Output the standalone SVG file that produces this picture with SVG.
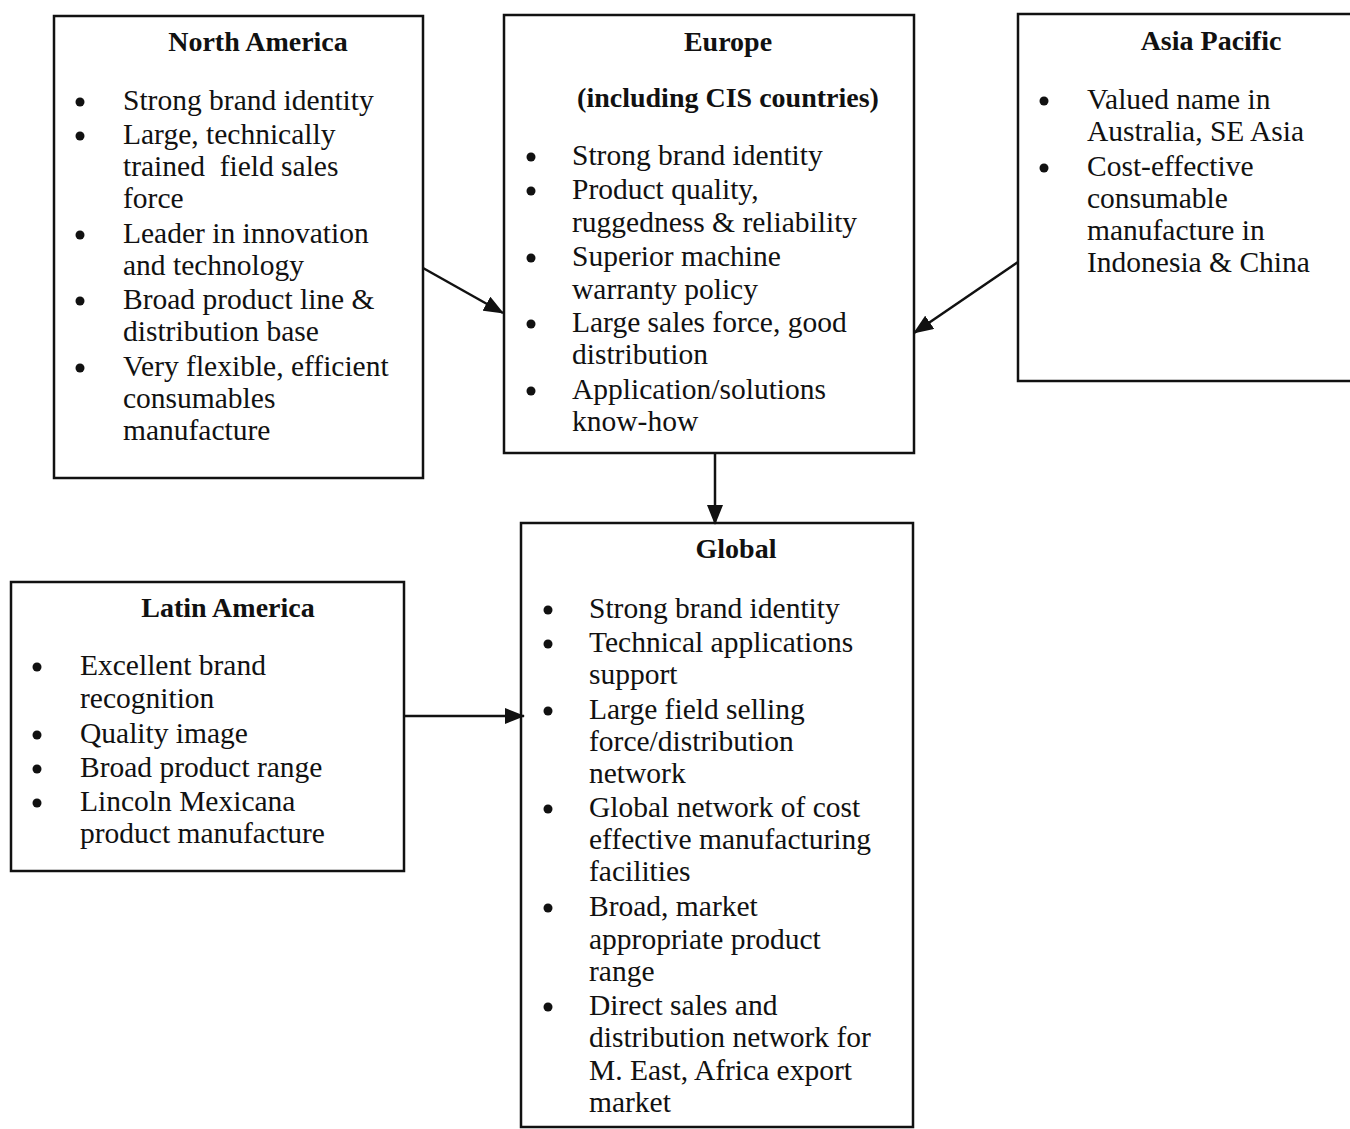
<svg xmlns="http://www.w3.org/2000/svg" width="1350" height="1129" viewBox="0 0 1350 1129">
<style>
.box{fill:#fff;stroke:#111;stroke-width:2.5}
.t{font-family:"Liberation Serif","Times New Roman",serif;font-weight:bold;font-size:28px;fill:#111;text-anchor:middle}
.b{font-family:"Liberation Serif","Times New Roman",serif;font-size:29.5px;fill:#111}
.dot{fill:#111}
.con{stroke:#111;stroke-width:2.5;fill:none}
</style>
<defs>
<marker id="ah" viewBox="0 0 20 16" refX="19" refY="8" markerWidth="20" markerHeight="16" markerUnits="userSpaceOnUse" orient="auto">
<path d="M0,0 L20,8 L0,16 z" fill="#111"/>
</marker>
</defs>
<rect width="1350" height="1129" fill="#fff"/>

<g id="north-america">
<rect class="box" x="54" y="16" width="369" height="462"/>
<text class="t" x="258" y="51">North America</text>
<circle class="dot" cx="80" cy="102" r="4.5"/>
<circle class="dot" cx="80" cy="136" r="4.5"/>
<circle class="dot" cx="80" cy="235" r="4.5"/>
<circle class="dot" cx="80" cy="301" r="4.5"/>
<circle class="dot" cx="80" cy="368" r="4.5"/>
<text class="b" x="123" y="110">Strong brand identity</text>
<text class="b" x="123" y="144">Large, technically</text>
<text class="b" x="123" y="176" xml:space="preserve">trained  field sales</text>
<text class="b" x="123" y="208">force</text>
<text class="b" x="123" y="243">Leader in innovation</text>
<text class="b" x="123" y="275">and technology</text>
<text class="b" x="123" y="309">Broad product line &amp;</text>
<text class="b" x="123" y="341">distribution base</text>
<text class="b" x="123" y="376">Very flexible, efficient</text>
<text class="b" x="123" y="408">consumables</text>
<text class="b" x="123" y="440">manufacture</text>
</g>

<g id="europe">
<rect class="box" x="504" y="15" width="410" height="438"/>
<text class="t" x="728" y="51">Europe</text>
<text class="t" x="728" y="107">(including CIS countries)</text>
<circle class="dot" cx="531" cy="157" r="4.5"/>
<circle class="dot" cx="531" cy="191" r="4.5"/>
<circle class="dot" cx="531" cy="258" r="4.5"/>
<circle class="dot" cx="531" cy="324" r="4.5"/>
<circle class="dot" cx="531" cy="391" r="4.5"/>
<text class="b" x="572" y="165">Strong brand identity</text>
<text class="b" x="572" y="199">Product quality,</text>
<text class="b" x="572" y="232">ruggedness &amp; reliability</text>
<text class="b" x="572" y="266">Superior machine</text>
<text class="b" x="572" y="299">warranty policy</text>
<text class="b" x="572" y="332">Large sales force, good</text>
<text class="b" x="572" y="364">distribution</text>
<text class="b" x="572" y="399">Application/solutions</text>
<text class="b" x="572" y="431">know-how</text>
</g>

<g id="asia-pacific">
<rect class="box" x="1018" y="14" width="345" height="367"/>
<text class="t" x="1211" y="50">Asia Pacific</text>
<circle class="dot" cx="1044" cy="101" r="4.5"/>
<circle class="dot" cx="1044" cy="168" r="4.5"/>
<text class="b" x="1087" y="109">Valued name in</text>
<text class="b" x="1087" y="141">Australia, SE Asia</text>
<text class="b" x="1087" y="176">Cost-effective</text>
<text class="b" x="1087" y="208">consumable</text>
<text class="b" x="1087" y="240">manufacture in</text>
<text class="b" x="1087" y="272">Indonesia &amp; China</text>
</g>

<g id="latin-america">
<rect class="box" x="11" y="582" width="393" height="289"/>
<text class="t" x="228" y="617">Latin America</text>
<circle class="dot" cx="37" cy="667" r="4.5"/>
<circle class="dot" cx="37" cy="735" r="4.5"/>
<circle class="dot" cx="37" cy="769" r="4.5"/>
<circle class="dot" cx="37" cy="803" r="4.5"/>
<text class="b" x="80" y="675">Excellent brand</text>
<text class="b" x="80" y="708">recognition</text>
<text class="b" x="80" y="743">Quality image</text>
<text class="b" x="80" y="777">Broad product range</text>
<text class="b" x="80" y="811">Lincoln Mexicana</text>
<text class="b" x="80" y="843">product manufacture</text>
</g>

<g id="global">
<rect class="box" x="521" y="523" width="392" height="604"/>
<text class="t" x="736" y="558">Global</text>
<circle class="dot" cx="548" cy="610" r="4.5"/>
<circle class="dot" cx="548" cy="644" r="4.5"/>
<circle class="dot" cx="548" cy="711" r="4.5"/>
<circle class="dot" cx="548" cy="809" r="4.5"/>
<circle class="dot" cx="548" cy="908" r="4.5"/>
<circle class="dot" cx="548" cy="1007" r="4.5"/>
<text class="b" x="589" y="618">Strong brand identity</text>
<text class="b" x="589" y="652">Technical applications</text>
<text class="b" x="589" y="684">support</text>
<text class="b" x="589" y="719">Large field selling</text>
<text class="b" x="589" y="751">force/distribution</text>
<text class="b" x="589" y="783">network</text>
<text class="b" x="589" y="817">Global network of cost</text>
<text class="b" x="589" y="849">effective manufacturing</text>
<text class="b" x="589" y="881">facilities</text>
<text class="b" x="589" y="916">Broad, market</text>
<text class="b" x="589" y="949">appropriate product</text>
<text class="b" x="589" y="981">range</text>
<text class="b" x="589" y="1015">Direct sales and</text>
<text class="b" x="589" y="1047">distribution network for</text>
<text class="b" x="589" y="1080">M. East, Africa export</text>
<text class="b" x="589" y="1112">market</text>
</g>

<g id="connectors">
<line class="con" x1="423" y1="268" x2="503" y2="313" marker-end="url(#ah)"/>
<line class="con" x1="1018" y1="262" x2="914" y2="333" marker-end="url(#ah)"/>
<line class="con" x1="715" y1="453" x2="715" y2="524" marker-end="url(#ah)"/>
<line class="con" x1="404" y1="716" x2="524" y2="716" marker-end="url(#ah)"/>
</g>
</svg>
